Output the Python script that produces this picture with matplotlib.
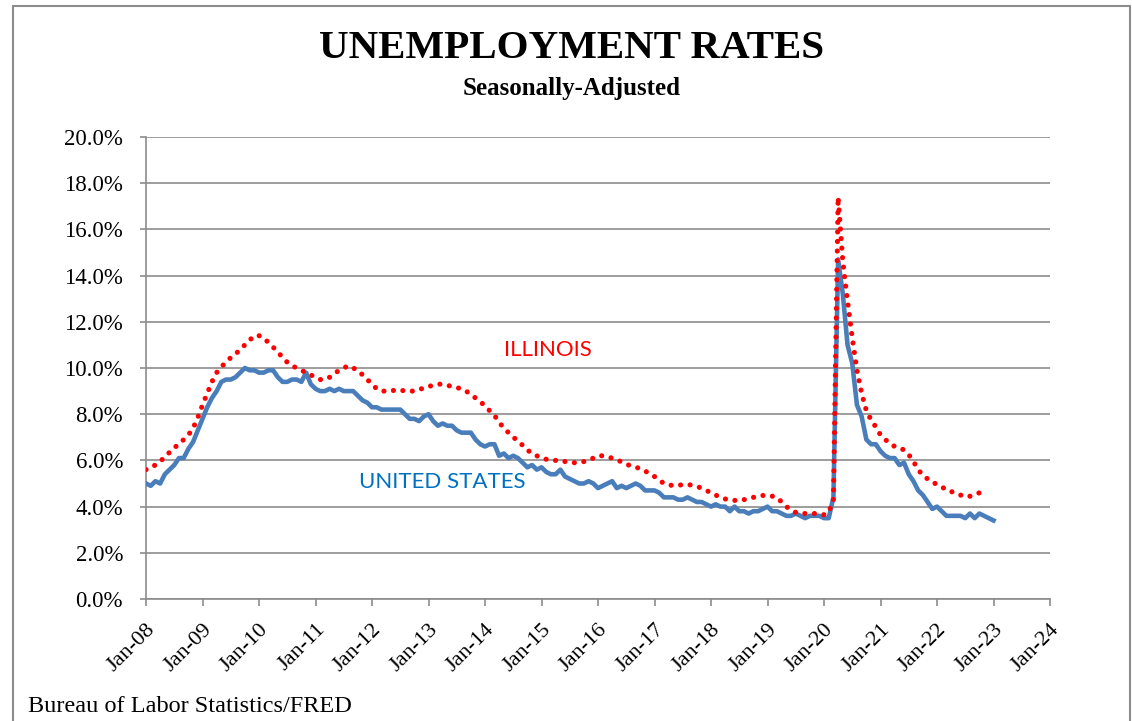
import numpy as np
import matplotlib.pyplot as plt
from matplotlib.patches import Rectangle
import matplotlib.transforms as mtransforms

# monthly rates in percent, starting Jan 2008
us_rate = [
    5.0, 4.9, 5.1, 5.0, 5.4, 5.6, 5.8, 6.1, 6.1, 6.5, 6.8, 7.3,   # 2008
    7.8, 8.3, 8.7, 9.0, 9.4, 9.5, 9.5, 9.6, 9.8, 10.0, 9.9, 9.9,  # 2009
    9.8, 9.8, 9.9, 9.9, 9.6, 9.4, 9.4, 9.5, 9.5, 9.4, 9.8, 9.3,   # 2010
    9.1, 9.0, 9.0, 9.1, 9.0, 9.1, 9.0, 9.0, 9.0, 8.8, 8.6, 8.5,   # 2011
    8.3, 8.3, 8.2, 8.2, 8.2, 8.2, 8.2, 8.0, 7.8, 7.8, 7.7, 7.9,   # 2012
    8.0, 7.7, 7.5, 7.6, 7.5, 7.5, 7.3, 7.2, 7.2, 7.2, 6.9, 6.7,   # 2013
    6.6, 6.7, 6.7, 6.2, 6.3, 6.1, 6.2, 6.1, 5.9, 5.7, 5.8, 5.6,   # 2014
    5.7, 5.5, 5.4, 5.4, 5.6, 5.3, 5.2, 5.1, 5.0, 5.0, 5.1, 5.0,   # 2015
    4.8, 4.9, 5.0, 5.1, 4.8, 4.9, 4.8, 4.9, 5.0, 4.9, 4.7, 4.7,   # 2016
    4.7, 4.6, 4.4, 4.4, 4.4, 4.3, 4.3, 4.4, 4.3, 4.2, 4.2, 4.1,   # 2017
    4.0, 4.1, 4.0, 4.0, 3.8, 4.0, 3.8, 3.8, 3.7, 3.8, 3.8, 3.9,   # 2018
    4.0, 3.8, 3.8, 3.7, 3.6, 3.6, 3.7, 3.6, 3.5, 3.6, 3.6, 3.6,   # 2019
    3.5, 3.5, 4.4, 14.7, 13.2, 11.0, 10.2, 8.4, 7.9, 6.9, 6.7, 6.7,  # 2020
    6.4, 6.2, 6.1, 6.1, 5.8, 5.9, 5.4, 5.1, 4.7, 4.5, 4.2, 3.9,   # 2021
    4.0, 3.8, 3.6, 3.6, 3.6, 3.6, 3.5, 3.7, 3.5, 3.7, 3.6, 3.5,   # 2022
    3.4,                                                          # 2023
]

il_rate = [
    5.6, 5.7, 5.8, 5.95, 6.15, 6.35, 6.55, 6.7, 6.9, 7.1, 7.4, 7.85,
    8.4, 8.9, 9.4, 9.8, 10.05, 10.25, 10.45, 10.6, 10.8, 11.0, 11.2, 11.4,
    11.4, 11.3, 11.1, 10.9, 10.7, 10.45, 10.25, 10.1, 10.0, 9.9, 9.8, 9.7,
    9.6, 9.5, 9.5, 9.6, 9.75, 9.9, 10.0, 10.1, 10.0, 9.9, 9.7, 9.5,
    9.3, 9.1, 9.0, 9.0, 9.0, 9.05, 9.05, 9.0, 9.0, 9.0, 9.05, 9.15,
    9.2, 9.25, 9.3, 9.3, 9.25, 9.2, 9.15, 9.1, 9.0, 8.85, 8.7, 8.55,
    8.35, 8.15, 7.95, 7.65, 7.4, 7.2, 7.0, 6.85, 6.65, 6.45, 6.3, 6.2,
    6.1, 6.05, 6.0, 6.0, 6.0, 5.95, 5.9, 5.9, 5.9, 5.95, 6.0, 6.1,
    6.2, 6.2, 6.15, 6.1, 6.0, 5.95, 5.85, 5.75, 5.7, 5.65, 5.55, 5.4,
    5.3, 5.15, 5.0, 4.95, 4.9, 4.92, 4.95, 4.95, 4.93, 4.87, 4.8, 4.7,
    4.6, 4.5, 4.4, 4.33, 4.3, 4.27, 4.25, 4.3, 4.35, 4.4, 4.45, 4.48,
    4.5, 4.45, 4.4, 4.2, 4.0, 3.85, 3.75, 3.7, 3.7, 3.7, 3.7, 3.65,
    3.65, 3.75, 4.3, 17.4, 14.6, 12.9, 11.3, 9.9, 8.9, 8.15, 7.75, 7.45,
    7.1, 6.9, 6.75, 6.6, 6.55, 6.45, 6.25, 5.95, 5.6, 5.35, 5.2, 5.05,
    4.97, 4.87, 4.7, 4.65, 4.6, 4.5, 4.42, 4.45, 4.5, 4.6, 4.7,
]

tick_years = list(range(8, 25))
tick_labels = ["Jan-%02d" % y for y in tick_years]
y_ticks = [0, 2, 4, 6, 8, 10, 12, 14, 16, 18, 20]

W, H = 1132, 721
fig = plt.figure(figsize=(W / 100, H / 100), dpi=100)
ax = fig.add_axes([146 / W, 1 - 599 / H, (1050 - 146) / W, (599 - 137) / H])

serif = "Liberation Serif"
grey = "#8c8c8c"

us_x = np.arange(len(us_rate))
il_x = np.arange(len(il_rate))

ax.plot(us_x, us_rate, color="#4a7ebb", lw=3.3, solid_joinstyle="round", zorder=3)
ax.plot(il_x, il_rate, color="#ff0000", lw=3.7, linestyle=(0, (0.01, 1.85)),
        dash_capstyle="round", zorder=4)

ax.set_xlim(0, 192)
ax.set_ylim(0, 20)
ax.set_yticks(y_ticks)
ax.set_yticklabels(["%.1f%%" % v for v in y_ticks], fontfamily=serif, fontsize=16.5)
ax.set_xticks([(y - 8) * 12 for y in tick_years])
ax.set_xticklabels(tick_labels, fontfamily=serif, fontsize=16, rotation=45,
                   ha="right", va="top", rotation_mode="anchor")
offset = mtransforms.ScaledTranslation(4 / 100, 0, fig.dpi_scale_trans)
for lab in ax.get_xticklabels():
    lab.set_transform(lab.get_transform() + offset)

ax.grid(axis="y", color=grey, lw=1.2)
ax.set_axisbelow(True)
for s in ["top", "right"]:
    ax.spines[s].set_visible(False)
for s in ["left", "bottom"]:
    ax.spines[s].set_color(grey)
    ax.spines[s].set_linewidth(1.2)
ax.tick_params(axis="y", length=4.5, width=1.2, color=grey, pad=12)
ax.tick_params(axis="x", length=5, width=1.2, color=grey, pad=10)

ax.text(85.4, 10.8, "ILLINOIS", color="#ff0000", fontsize=16, fontfamily="Lato",
        ha="center", va="center")
ax.text(62.9, 5.05, "UNITED STATES", color="#0070c0", fontsize=16, fontfamily="Lato",
        ha="center", va="center")

fig.text(572 / W, 1 - 48 / H, "UNEMPLOYMENT RATES", fontfamily=serif, fontsize=29.5,
         fontweight="bold", ha="center", va="center")
fig.text(572 / W, 1 - 88 / H, "Seasonally-Adjusted", fontfamily=serif, fontsize=18,
         fontweight="bold", ha="center", va="center")
fig.text(28 / W, 1 - 706 / H, "Bureau of Labor Statistics/FRED", fontfamily=serif,
         fontsize=17.5, ha="left", va="center")

fig.patches.append(Rectangle((13 / W, -0.05), (1130 - 13) / W, 1.05 - 6 / H,
                             transform=fig.transFigure, fill=False, edgecolor=grey, lw=1.5))

fig.savefig("out.png", dpi=100)
